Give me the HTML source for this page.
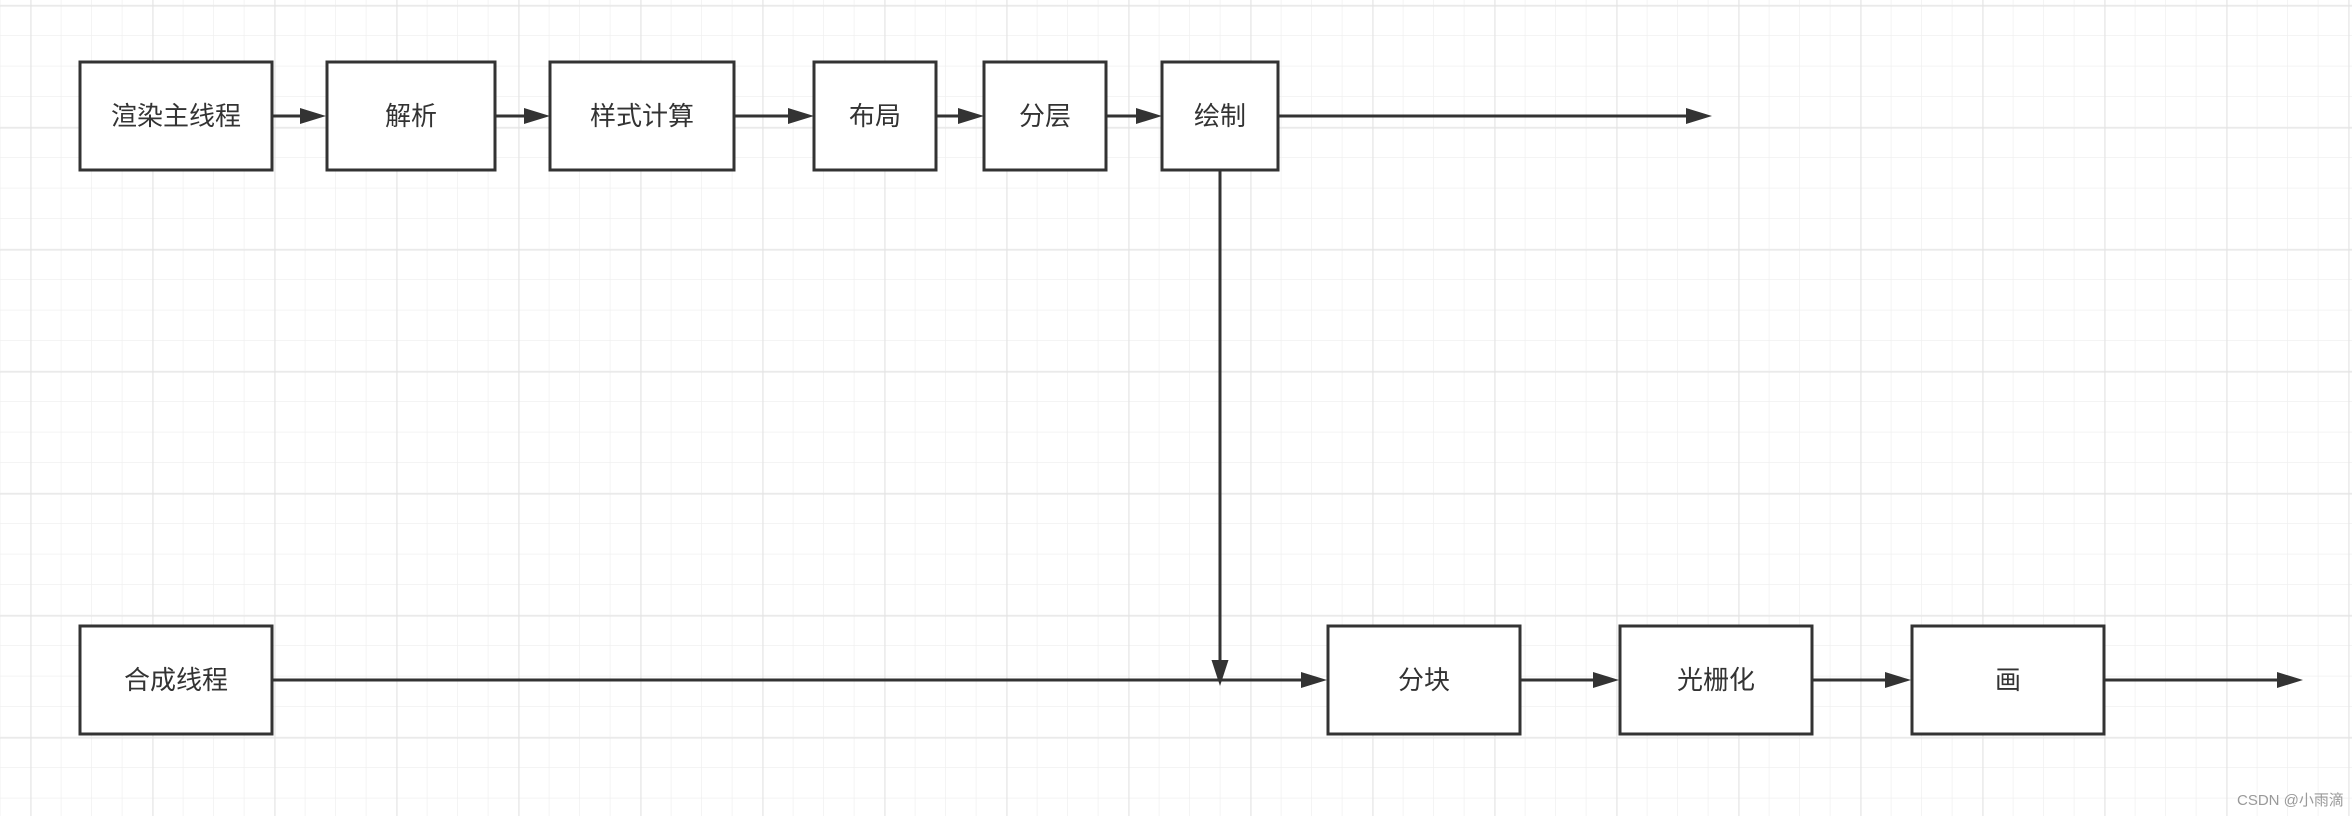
<!DOCTYPE html>
<html><head><meta charset="utf-8"><style>
html,body{margin:0;padding:0;background:#fff}
svg{display:block}
text{font-family:"Liberation Sans","Noto Sans CJK SC",sans-serif;fill:#333}
</style></head><body>
<svg width="2352" height="816" viewBox="0 0 2352 816" xmlns="http://www.w3.org/2000/svg">
<defs>
<pattern id="minor" x="0.5" y="5.5" width="30.5" height="30.5" patternUnits="userSpaceOnUse">
<path d="M30.5 0V30.5M0 30.5H30.5" stroke="#f0f0f0" stroke-width="1.5" fill="none"/>
</pattern>
<pattern id="major" x="30.5" y="5.5" width="122" height="122" patternUnits="userSpaceOnUse">
<path d="M0 0V122M0 0H122" stroke="#e3e3e3" stroke-width="2" fill="none"/>
</pattern>
</defs>
<rect width="2352" height="816" fill="#fff"/>
<rect width="2352" height="816" fill="url(#minor)"/>
<rect width="2352" height="816" fill="url(#major)"/>

<g stroke="#333" stroke-width="3" fill="#fff">
<rect x="80" y="62" width="192" height="108"/>
<rect x="327" y="62" width="168" height="108"/>
<rect x="550" y="62" width="184" height="108"/>
<rect x="814" y="62" width="122" height="108"/>
<rect x="984" y="62" width="122" height="108"/>
<rect x="1162" y="62" width="116" height="108"/>
<rect x="80" y="626" width="192" height="108"/>
<rect x="1328" y="626" width="192" height="108"/>
<rect x="1620" y="626" width="192" height="108"/>
<rect x="1912" y="626" width="192" height="108"/>
</g>

<g stroke="#333" stroke-width="3" fill="none">
<path d="M273.5 116H302"/>
<path d="M496.5 116H526"/>
<path d="M735.5 116H790"/>
<path d="M937.5 116H960"/>
<path d="M1107.5 116H1138"/>
<path d="M1279.5 116H1688"/>
<path d="M1220 171.5V662"/>
<path d="M273.5 680H1302"/>
<path d="M1521.5 680H1596"/>
<path d="M1813.5 680H1888"/>
<path d="M2105.5 680H2280"/>
</g>
<g fill="#333">
<path d="M300 108L326 116L300 124Z"/>
<path d="M524 108L550 116L524 124Z"/>
<path d="M788 108L814 116L788 124Z"/>
<path d="M958 108L984 116L958 124Z"/>
<path d="M1136 108L1162 116L1136 124Z"/>
<path d="M1686 108L1712 116L1686 124Z"/>
<path d="M1211.5 660L1220 686L1228.5 660Z"/>
<path d="M1301 672L1327 680L1301 688Z"/>
<path d="M1593 672L1619 680L1593 688Z"/>
<path d="M1885 672L1911 680L1885 688Z"/>
<path d="M2277 672L2303 680L2277 688Z"/>
</g>

<g font-size="26" text-anchor="middle">
<text x="176" y="125">渲染主线程</text>
<text x="411" y="125">解析</text>
<text x="642" y="125">样式计算</text>
<text x="875" y="125">布局</text>
<text x="1045" y="125">分层</text>
<text x="1220" y="125">绘制</text>
<text x="176" y="689">合成线程</text>
<text x="1424" y="689">分块</text>
<text x="1716" y="689">光栅化</text>
<text x="2008" y="689">画</text>
</g>
<text x="2237" y="805" font-size="15" style="fill:#999">CSDN @小雨滴</text>
</svg>
</body></html>
